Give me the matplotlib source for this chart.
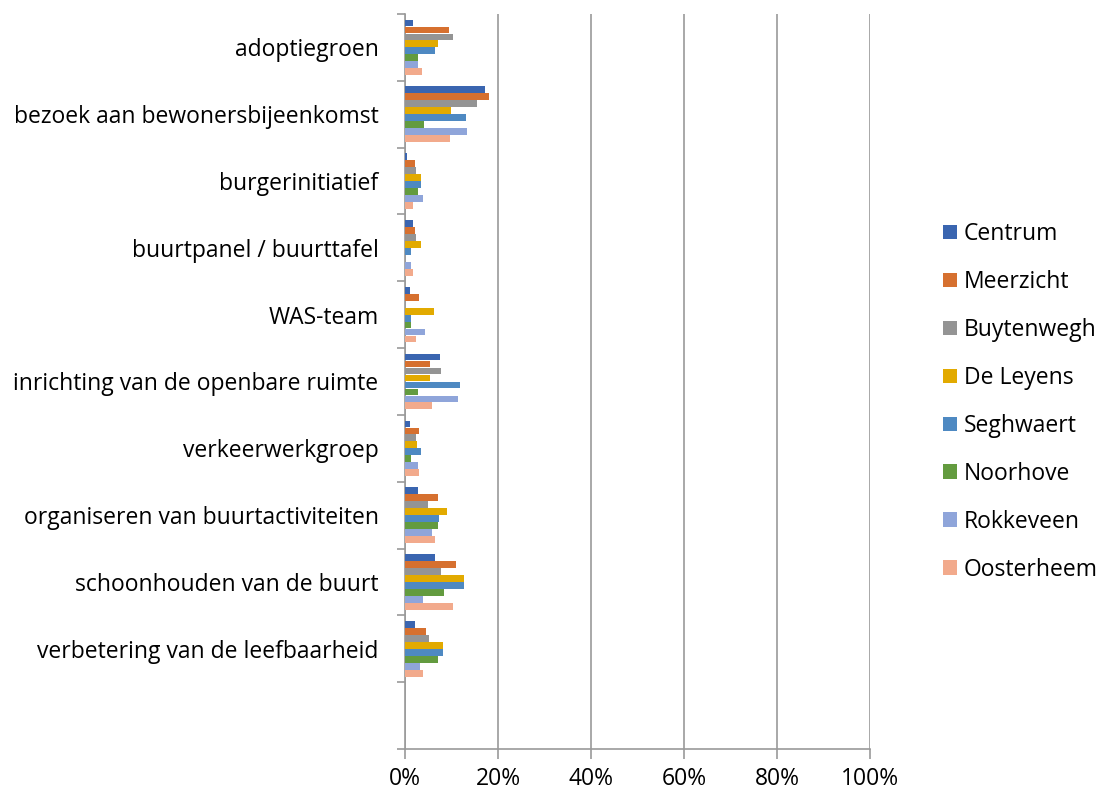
import numpy as np
import matplotlib
matplotlib.use("Agg")
import matplotlib.pyplot as plt
from matplotlib.patches import Patch
from matplotlib.ticker import FixedLocator, PercentFormatter

CATEGORIES = [
    "adoptiegroen",
    "bezoek aan bewonersbijeenkomst",
    "burgerinitiatief",
    "buurtpanel / buurttafel",
    "WAS-team",
    "inrichting van de openbare ruimte",
    "verkeerwerkgroep",
    "organiseren van buurtactiviteiten",
    "schoonhouden van de buurt",
    "verbetering van de leefbaarheid",
    "",
]

SERIES = ["Centrum", "Meerzicht", "Buytenwegh", "De Leyens",
          "Seghwaert", "Noorhove", "Rokkeveen", "Oosterheem"]

COLORS = ["#3A65B0", "#D6702F", "#949494", "#E2AA00",
          "#4E89C2", "#639B3F", "#8FA5DA", "#F2AA8C"]

# percentages per series, in category order (last slot is empty)
CENTRUM = [1.7, 17.3, 0.4, 1.7, 1.1, 7.6, 1.1, 2.9, 6.5, 2.2, 0]
MEERZICHT = [9.4, 18.1, 2.2, 2.2, 3.0, 5.4, 3.0, 7.0, 11.0, 4.6, 0]
BUYTENWEGH = [10.3, 15.5, 2.4, 2.4, 0, 7.7, 2.4, 5.0, 7.7, 5.1, 0]
DE_LEYENS = [7.2, 9.9, 3.5, 3.5, 6.3, 5.3, 2.6, 9.0, 12.6, 8.1, 0]
SEGHWAERT = [6.5, 13.2, 3.5, 1.3, 1.3, 11.8, 3.5, 7.3, 12.6, 8.1, 0]
NOORHOVE = [2.7, 4.1, 2.7, 0, 1.3, 2.7, 1.3, 7.0, 8.3, 7.0, 0]
ROKKEVEEN = [2.9, 13.4, 3.9, 1.3, 4.4, 11.4, 2.8, 5.9, 3.9, 3.3, 0]
OOSTERHEEM = [3.7, 9.7, 1.8, 1.8, 2.4, 5.8, 3.1, 6.4, 10.4, 3.8, 0]

VALUES = [CENTRUM, MEERZICHT, BUYTENWEGH, DE_LEYENS,
          SEGHWAERT, NOORHOVE, ROKKEVEEN, OOSTERHEEM]

FONT = ["Open Sans", "DejaVu Sans"]
FONT_SIZE = 16.5
GRID = "#9A9A9A"


def main() -> None:
    plt.rcParams["font.family"] = FONT
    fig = plt.figure(figsize=(11.02, 7.96), dpi=100)
    ax = fig.add_axes([0.3675, 0.059, 0.4220, 0.9235])

    n_cat = len(CATEGORIES)
    idx = np.arange(n_cat)
    group = 0.834
    bar_h = group / len(SERIES)
    for j, (vals, color) in enumerate(zip(VALUES, COLORS)):
        y = idx - group / 2 + (j + 0.5) * bar_h
        ax.barh(y, vals, height=bar_h * 0.97, color=color, zorder=3)

    ax.set_xlim(0, 100)
    ax.set_ylim(n_cat - 0.5, -0.5)
    ax.set_xticks(np.arange(0, 101, 20))
    ax.xaxis.set_major_formatter(PercentFormatter(decimals=0))
    ax.grid(axis="x", color=GRID, linewidth=1.2, zorder=0)

    ax.yaxis.set_major_locator(FixedLocator(np.arange(-0.5, n_cat, 1.0)))
    ax.yaxis.set_minor_locator(FixedLocator(idx))
    ax.set_yticklabels([])
    ax.set_yticklabels(CATEGORIES, minor=True)
    ax.tick_params(axis="y", which="major", length=6, width=1.2, color=GRID)
    ax.tick_params(axis="y", which="minor", length=0, pad=19, labelsize=FONT_SIZE)
    ax.tick_params(axis="x", length=7, width=1.2, color=GRID,
                   labelsize=FONT_SIZE, pad=6)

    for side in ("top", "right"):
        ax.spines[side].set_visible(False)
    for side in ("left", "bottom"):
        ax.spines[side].set_color(GRID)
        ax.spines[side].set_linewidth(1.2)

    handles = [Patch(facecolor=c, label=s) for s, c in zip(SERIES, COLORS)]
    fig.legend(handles=handles, loc="center left", bbox_to_anchor=(0.837, 0.495),
               frameon=False, fontsize=FONT_SIZE, handlelength=0.61,
               handleheight=0.61, handletextpad=0.3, labelspacing=1.045)

    fig.savefig("out.png", dpi=100)
    plt.close(fig)


if __name__ == "__main__":
    main()
